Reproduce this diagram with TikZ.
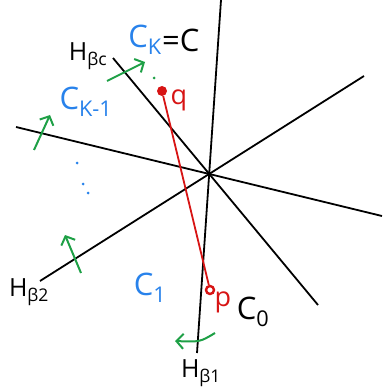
\documentclass[tikz,border=0pt]{standalone}
\usepackage{fontspec}
\setmainfont{Open Sans}
\usepackage{xcolor}
\usepackage{tikz}
\usetikzlibrary{arrows.meta, positioning, calc}

\definecolor{penblue}{RGB}{40,130,235}
\definecolor{pengreen}{RGB}{30,160,70}
\definecolor{penred}{RGB}{215,20,20}

\begin{document}
\begin{tikzpicture}[
  x=1pt, y=-1pt,
  hyp/.style={black, line width=1.8pt},
  seg/.style={penred, line width=1.8pt},
  nrm/.style={-{Straight Barb[length=7pt, width=15pt]}, pengreen, line width=2pt},
  hlab/.style={font=\fontsize{25}{25}\selectfont, inner sep=0pt},
  clab/.style={font=\fontsize{31}{31}\selectfont, penblue, inner sep=0pt},
  plab/.style={font=\fontsize{27}{27}\selectfont, penred, inner sep=0pt},
  bdot/.style={circle, fill=penblue, inner sep=0pt, minimum size=3pt},
]
\useasboundingbox (0,0) rectangle (382,390);

%% ---- hyperplanes through the origin ----
\coordinate (O)   at (209,174);
\coordinate (h1a) at (221,0);   \coordinate (h1b) at (197,353);
\coordinate (hca) at (113,58);  \coordinate (hcb) at (318,305);
\coordinate (hxa) at (16,127);  \coordinate (hxb) at (382,216);
\coordinate (h2a) at (40,281);  \coordinate (h2b) at (364,76);

\draw[hyp] (h1a) -- (h1b);
\draw[hyp] (hca) -- (hcb);
\draw[hyp] (hxa) -- (hxb);
\draw[hyp] (h2a) -- (h2b);

\node[hlab] (lb1) at (201,373) {H\textsubscript{β1}};
\node[hlab] (lbc) at (88,56)   {H\textsubscript{βc}};
\node[hlab] (lb2) at (29,292)  {H\textsubscript{β2}};

%% ---- normals (green) ----
\coordinate (n1s) at (107,81);  \coordinate (n1e) at (145,62);
\coordinate (n2s) at (34,150);  \coordinate (n2e) at (50,115);
\coordinate (n3s) at (81,273);  \coordinate (n3e) at (65,235);
\coordinate (n4s) at (215,333); \coordinate (n4e) at (175,341);
\draw[nrm] (n1s) -- (n1e);
\draw[nrm] (n2s) -- (n2e);
\draw[nrm] (n3s) -- (n3e);
\draw[nrm] (n4s) .. controls (200,342) .. (n4e);

%% ---- cells ----
\node[clab] (ck)  at (145,40)  {C\textsubscript{K}};
\node[font=\fontsize{31}{31}\selectfont, inner sep=0pt, right=0pt of ck] (eqc) {=C};
\node[clab] (ck1) at (86,102)  {C\textsubscript{K-1}};
\node[clab] (c1)  at (150,288) {C\textsubscript{1}};
\node[font=\fontsize{31}{31}\selectfont, inner sep=0pt] (c0) at (253,312) {C\textsubscript{0}};

\node[bdot] (d1) at (77,163) {};
\node[bdot] (d2) at (83,184) {};
\node[bdot] (d3) at (88,193) {};
\node[circle, fill=pengreen, inner sep=0pt, minimum size=3pt] (d4) at (154,78) {};

%% ---- segment p--q ----
\node[circle, fill=penred, inner sep=0pt, minimum size=10pt] (q) at (162,91) {};
\node[circle, draw=penred, line width=2.4pt, fill=white, inner sep=0pt, minimum size=8pt] (p) at (210,290) {};
\draw[seg] (q) -- (p);
\node[plab] (ql) at (179,100) {q};
\node[plab] (pl) at (223,302) {p};

\end{tikzpicture}
\end{document}
